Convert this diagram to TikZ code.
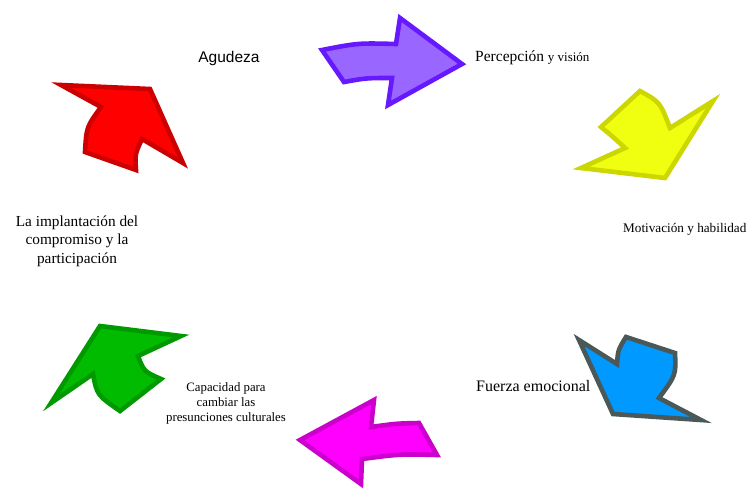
\documentclass[tikz,border=0pt]{standalone}
\usepackage{fontspec}
\setmainfont{Liberation Serif}
\newfontfamily\arialfont{Liberation Sans}
\definecolor{purplefill}{HTML}{9966FF}
\definecolor{purpleline}{HTML}{6619FF}
\definecolor{yellowfill}{HTML}{F0FF0F}
\definecolor{yellowline}{HTML}{CCD600}
\definecolor{bluefill}{HTML}{0099FF}
\definecolor{blueline}{HTML}{4B5858}
\definecolor{magentafill}{HTML}{FF00FF}
\definecolor{magentaline}{HTML}{CC00CC}
\definecolor{greenfill}{HTML}{00BB00}
\definecolor{greenline}{HTML}{009900}
\definecolor{redfill}{HTML}{FF0000}
\definecolor{redline}{HTML}{CC0000}
\begin{document}
\begin{tikzpicture}[x=1pt,y=-1pt,
  blockarrow/.style={line width=4.6pt, line join=miter, miter limit=10},
  label/.style={inner sep=0pt, text=black}]
\useasboundingbox (0,0) rectangle (746,491);

% purple arrow, pointing right
\filldraw[blockarrow, draw=purpleline, fill=purplefill]
  (322,50) .. controls (358,43) .. (396,44) -- (400,18) -- (462,64)
  -- (388,105) -- (392,78) .. controls (366,78) .. (344,82) -- cycle;

% yellow arrow, pointing down-right
\filldraw[blockarrow, draw=yellowline, fill=yellowfill]
  (640,91) .. controls (660,102) .. (670,128) -- (713,101) -- (665,178)
  -- (581,168) -- (625,148) .. controls (612,136) .. (601,127) -- cycle;

% blue arrow, pointing down-left
\filldraw[blockarrow, draw=blueline, fill=bluefill]
  (579,340) -- (617,364) .. controls (618,350) .. (626,337) -- (675,353)
  .. controls (676,375) .. (659,398) -- (701,420) -- (613,414) -- cycle;

% magenta arrow, pointing left
\filldraw[blockarrow, draw=magentaline, fill=magentafill]
  (300,440) -- (374,400) -- (371,427) .. controls (396,423.5) .. (419,423)
  -- (437,455) .. controls (400,454) .. (362,459) -- (361,484) -- cycle;

% green arrow, pointing up-left
\filldraw[blockarrow, draw=greenline, fill=greenfill]
  (100,326) -- (181,336) -- (138,356) .. controls (144,371.5) .. (161,379)
  -- (120,411) .. controls (97,395) .. (93,374) -- (51,403) -- cycle;

% red arrow, pointing up-right
\filldraw[blockarrow, draw=redline, fill=redfill]
  (61,85) -- (150,89) -- (183,163) -- (142,139) .. controls (135,154) .. (136,170)
  -- (85,152) .. controls (86.5,127) .. (101,107) -- cycle;

% labels (multi-line nodes are placed by the baseline of their last line)
\node[label, anchor=base] (agudeza) at (229,62)
  {\arialfont\fontsize{15.5}{18}\selectfont Agudeza};
\node[label, anchor=base west] (percepcion) at (475,61)
  {\fontsize{15.5}{18}\selectfont Percepción {\fontsize{13}{15}\selectfont y visión}};
\node[label, anchor=base west] (motivacion) at (623,232)
  {\fontsize{13.2}{15}\selectfont Motivación y habilidad};
\node[label, anchor=base west] (fuerza) at (476,391)
  {\fontsize{16}{18}\selectfont Fuerza emocional};
\node[label, anchor=base, align=center, font=\fontsize{12.8}{15}\selectfont]
  (capacidad) at (226,421)
  {Capacidad para\\ cambiar las\\ presunciones culturales};
\node[label, anchor=base, align=center, font=\fontsize{15.3}{18.5}\selectfont]
  (implantacion) at (77,263)
  {La implantación del\\ compromiso y la\\ participación};
\end{tikzpicture}
\end{document}
